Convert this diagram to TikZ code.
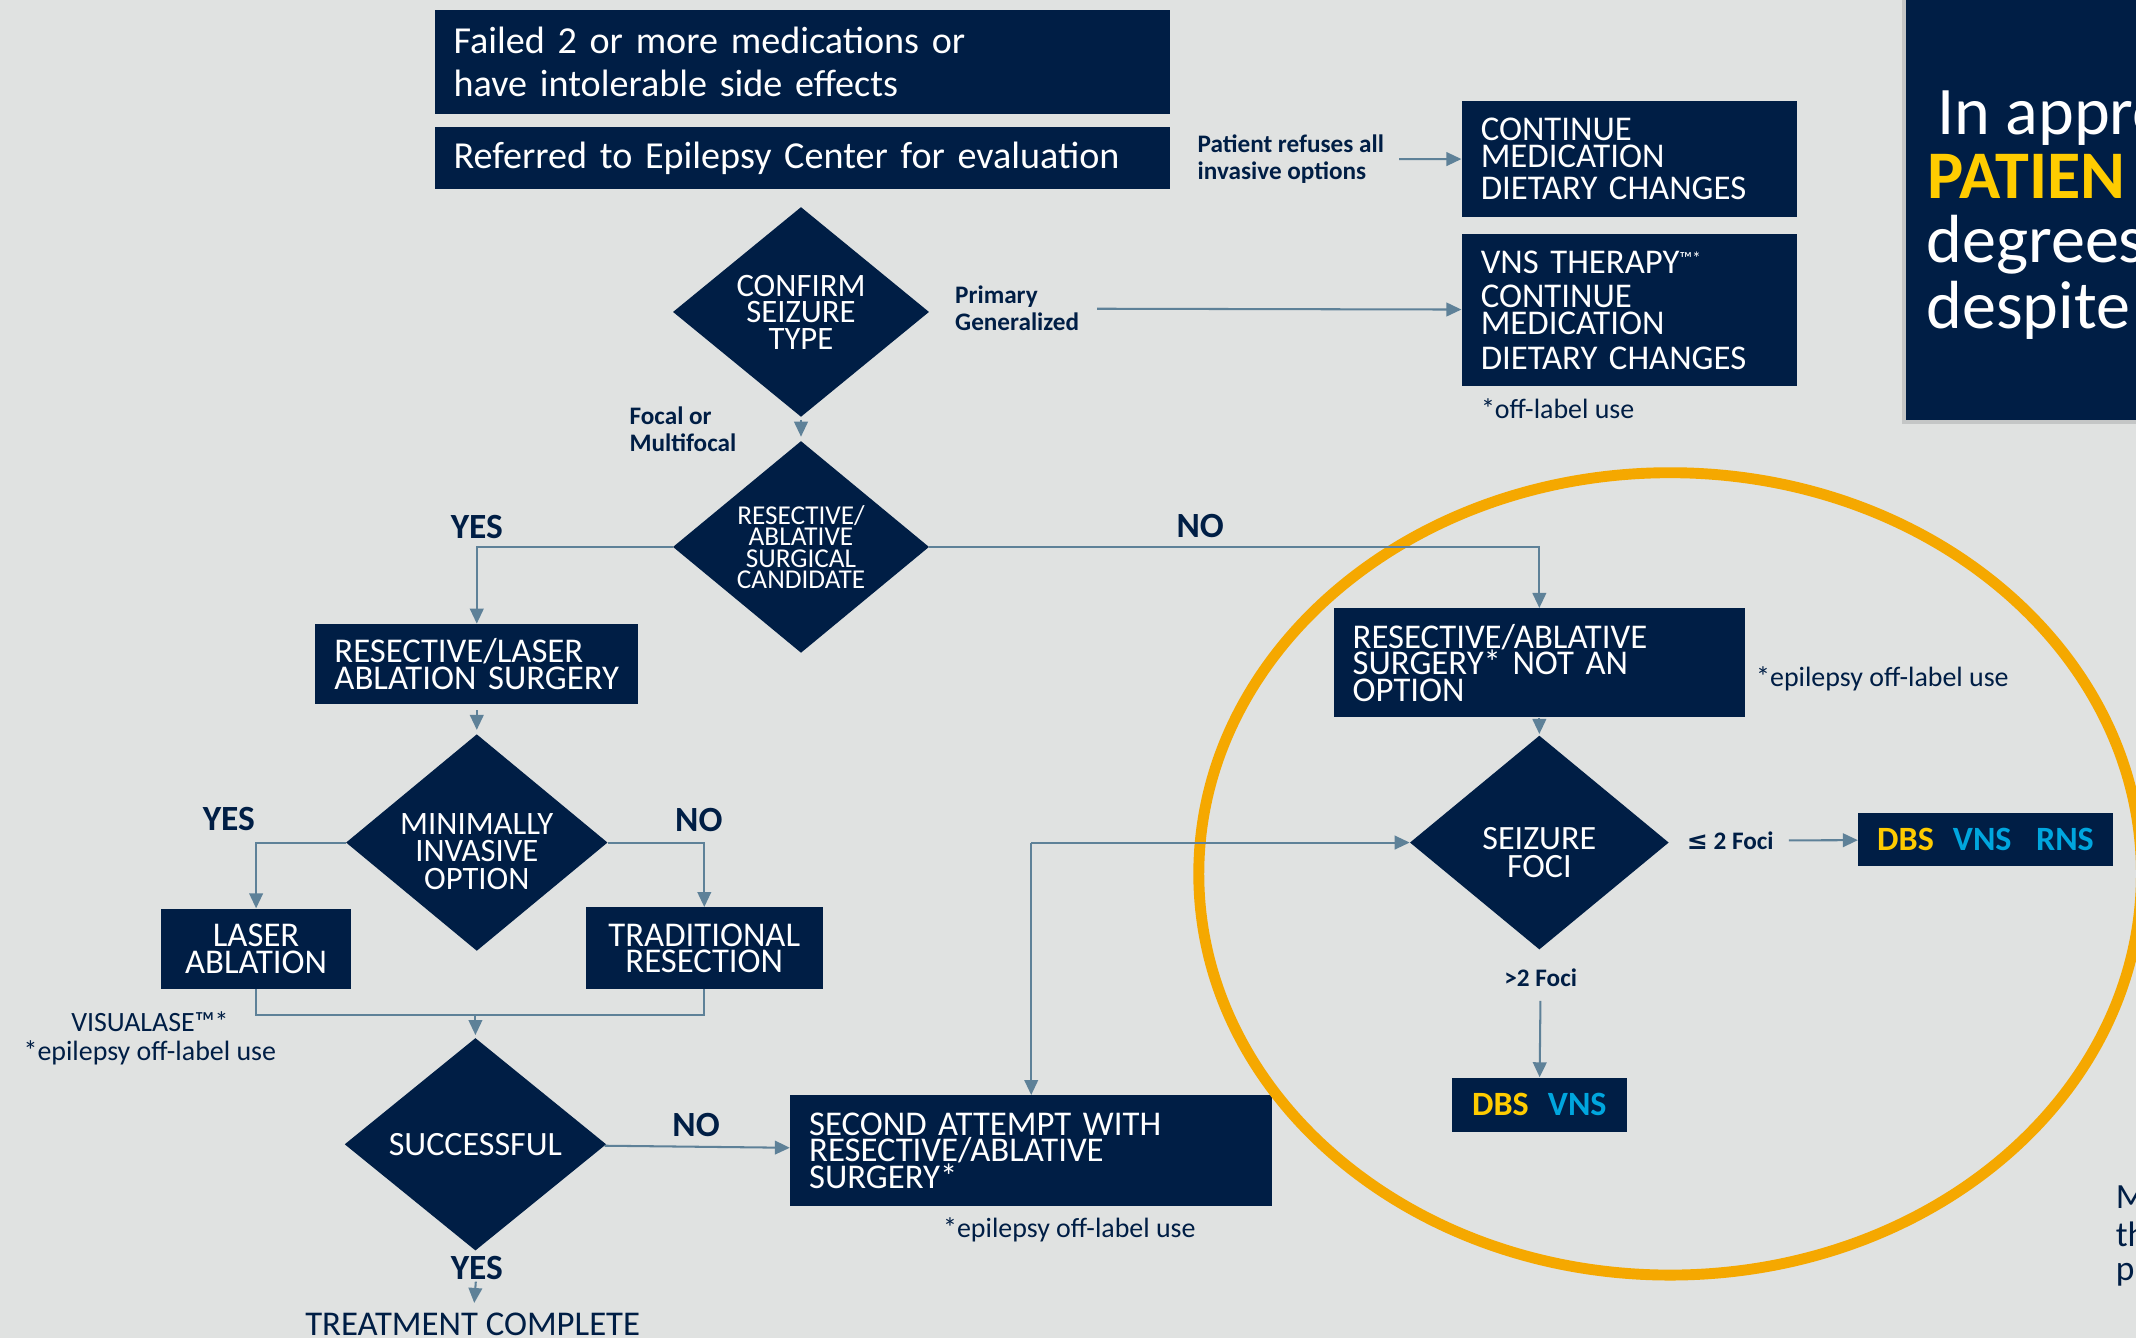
\documentclass[tikz,border=0pt]{standalone}
\usepackage{fontspec}
\setmainfont{Carlito}
\newfontfamily\symfont{DejaVu Sans}
\usetikzlibrary{shapes.geometric,arrows.meta,positioning}

\definecolor{navy}{RGB}{0,30,69}
\definecolor{bggray}{RGB}{224,226,225}
\definecolor{shadowgray}{RGB}{196,198,198}
\definecolor{linkblue}{RGB}{94,129,152}
\definecolor{ringorange}{RGB}{245,168,0}
\definecolor{dbsyellow}{RGB}{255,204,0}
\definecolor{vnscyan}{RGB}{0,166,222}

\newcommand\boxfont{\fontsize{25.5pt}{19.5pt}\selectfont}
\newcommand\headfont{\fontsize{28pt}{31pt}\selectfont}
\newcommand\lblfont{\bfseries\fontsize{18.5pt}{20pt}\selectfont}
\newcommand\notefont{\fontsize{20.5pt}{21pt}\selectfont}
\newcommand\yesnofont{\bfseries\fontsize{26pt}{26pt}\selectfont}
\newcommand\optfont{\bfseries\fontsize{25pt}{25pt}\selectfont}
\newcommand\panelfont{\fontsize{50pt}{50pt}\selectfont}

\begin{document}
\begin{tikzpicture}
  [x=1pt,y=-1pt,
   navybox/.style={rectangle,fill=navy,text=white,inner xsep=14pt,inner ysep=0pt,font=\boxfont,align=left},
   decision/.style={diamond,fill=navy,text=white,inner sep=0pt,align=center},
   lbl/.style={text=navy,font=\lblfont,inner sep=0pt,align=left},
   note/.style={text=navy,font=\notefont,inner sep=0pt,align=center},
   yesno/.style={text=navy,font=\yesnofont,inner sep=0pt},
   paneltext/.style={anchor=base west,text=white,font=\panelfont,inner sep=0pt},
   arr/.style={draw=linkblue,line width=1.5pt,-{Triangle[width=10pt,length=11pt]}},
   link/.style={draw=linkblue,line width=1.5pt}]

  \fill[bggray] (0,0) rectangle (1568,982);
  \useasboundingbox (0,0) rectangle (1568,982);
  \clip (0,0) rectangle (1568,982);

  % top of the chart
  \node[navybox,minimum width=540pt,minimum height=77pt,text width=512pt,font=\headfont] (failed) at (589,45.5) {Failed 2 or more medications or\\have intolerable side effects};
  \node[navybox,minimum width=540pt,minimum height=46pt,text width=512pt,font=\headfont] (referred) at (589,116) {Referred to Epilepsy Center for evaluation};
  \node[lbl,anchor=west] (refuses) at (879,117) {Patient refuses all\\invasive options};
  \node[navybox,minimum width=246pt,minimum height=85pt,text width=218pt] (cont) at (1196,116.5) {CONTINUE\\MEDICATION\\[4pt]DIETARY CHANGES};
  \node[navybox,minimum width=246pt,minimum height=111pt,text width=218pt] (vns) at (1196,227.5) {VNS THERAPY\raisebox{6pt}{\fontsize{13pt}{13pt}\selectfont ™*}\\[6pt]CONTINUE\\MEDICATION\\[6pt]DIETARY CHANGES};
  \node[note,anchor=west] (offvns) at (1087,300) {*off-label use};

  \node[decision,minimum width=188pt,minimum height=154pt,font=\fontsize{24pt}{19.5pt}\selectfont] (confirm) at (588,229) {CONFIRM\\SEIZURE\\TYPE};
  \node[lbl,anchor=west] (primary) at (701,226.5) {Primary\\Generalized};
  \node[lbl,anchor=west] (focal) at (462,315) {Focal or\\Multifocal};
  \node[decision,minimum width=188pt,minimum height=155pt,font=\fontsize{20pt}{15.8pt}\selectfont] (cand) at (588,401.5) {RESECTIVE/\\ABLATIVE\\SURGICAL\\CANDIDATE};
  \node[yesno] (yescand) at (350,387) {YES};
  \node[yesno] (nocand) at (881,386) {NO};

  % left branch
  \node[navybox,minimum width=237pt,minimum height=59pt,text width=209pt] (lasersurg) at (350,487.5) {RESECTIVE/LASER\\ABLATION SURGERY};
  \node[decision,minimum width=192pt,minimum height=159pt,
        label={[text=white,align=center,inner sep=0pt,font=\fontsize{24pt}{20pt}\selectfont,yshift=-6.5pt]center:MINIMALLY\\INVASIVE\\OPTION}] (minimal) at (350,618.5) {};
  \node[yesno] (yesmin) at (168,601) {YES};
  \node[yesno] (nomin) at (513,602) {NO};
  \node[navybox,align=center,inner xsep=0pt,minimum width=139pt,minimum height=59pt] (laser) at (188,696.5) {LASER\\ABLATION};
  \node[navybox,align=center,inner xsep=0pt,minimum width=174pt,minimum height=60pt] (trad) at (517,696) {TRADITIONAL\\RESECTION};
  \node[note] (visualase) at (110,762) {VISUALASE™*\\*epilepsy off-label use};
  \coordinate (merge) at (349,745);
  \node[decision,minimum width=192pt,minimum height=156pt,font=\fontsize{25pt}{20pt}\selectfont] (success) at (349,840) {SUCCESSFUL};
  \node[yesno] (nosucc) at (511,826) {NO};
  \node[yesno] (yessucc) at (350,931) {YES};
  \node[text=navy,font=\boxfont,inner sep=0pt] (complete) at (347,972) {TREATMENT COMPLETE};
  \node[navybox,minimum width=354pt,minimum height=81pt,text width=326pt] (second) at (757,844.5) {SECOND ATTEMPT WITH\\RESECTIVE/ABLATIVE\\SURGERY*};
  \node[note] (offsecond) at (785,903) {*epilepsy off-label use};
  \coordinate (loop) at (757,618.5);

  % right branch
  \node[navybox,minimum width=302pt,minimum height=80pt,text width=274pt] (notopt) at (1130,486.5) {RESECTIVE/ABLATIVE\\SURGERY* NOT AN\\OPTION};
  \node[note,anchor=west] (offnot) at (1289,498) {*epilepsy off-label use};
  \node[decision,minimum width=190pt,minimum height=157pt,font=\fontsize{25pt}{20pt}\selectfont] (foci) at (1130,618.5) {\rule{0pt}{31pt}SEIZURE\\FOCI};
  \node[lbl,anchor=west] (fewfoci) at (1238,617) {{\symfont ≤} 2 Foci};
  \node[navybox,inner xsep=0pt,minimum width=187pt,minimum height=39pt,font=\optfont] (threeopt) at (1457.5,616.5) {\textcolor{dbsyellow}{DBS}\hspace{14pt}\textcolor{vnscyan}{VNS}\hspace{18pt}\textcolor{vnscyan}{RNS}};
  \node[lbl] (manyfoci) at (1131,718) {>2 Foci};
  \node[navybox,inner xsep=0pt,minimum width=128pt,minimum height=40pt,font=\optfont] (twoopt) at (1130,811) {\textcolor{dbsyellow}{DBS}\hspace{14pt}\textcolor{vnscyan}{VNS}};

  \draw[ringorange,line width=8pt] (1226,641.5) ellipse [x radius=346pt,y radius=294.5pt];

  % connectors
  \draw[arr,shorten <=11pt] (refuses) -- (cont);
  \draw[arr,shorten <=13pt] (primary) -- (vns);
  \draw[arr,shorten <=2pt,shorten >=3pt] (confirm) -- (cand);
  \draw[arr] (cand.west) -| (lasersurg.north);
  \draw[arr] (cand.east) -| (notopt.north);
  \draw[arr,shorten <=4pt,shorten >=3pt] (lasersurg) -- (minimal);
  \draw[arr] (minimal.west) -| (laser.north);
  \draw[arr] (minimal.east) -| (trad.north);
  \draw[link] (laser.south) |- (merge) -| (trad.south);
  \draw[arr,shorten >=2pt] (merge) -- (success.north);
  \draw[arr] (success) -- (second);
  \draw[arr,shorten <=1pt,shorten >=7pt] (yessucc) -- (complete);
  \draw[arr] (loop) -- (foci.west);
  \draw[arr] (loop) -- (second.north);
  \draw[arr,shorten >=1pt] (notopt) -- (foci);
  \draw[arr,shorten <=11pt] (fewfoci) -- (threeopt);
  \draw[arr,shorten <=10pt] (manyfoci) -- (twoopt);

  % side panel
  \fill[shadowgray] (1396,-10) rectangle (1580,311);
  \fill[navy] (1399,-10) rectangle (1580,308);
  \node[paneltext] (intro) at (1422,99) {In appro};
  \node[paneltext,text=dbsyellow,font=\bfseries\panelfont] (patients) at (1415,145.5) {PATIEN};
  \node[paneltext] (degrees) at (1414,193) {degrees};
  \node[paneltext] (despite) at (1414,241) {despite};

  \node[anchor=base west,text=navy,font=\fontsize{26pt}{28pt}\selectfont,inner sep=0pt] (cutm) at (1553,887) {M};
  \node[anchor=base west,text=navy,font=\fontsize{26pt}{28pt}\selectfont,inner sep=0pt] (cutth) at (1553,915) {th};
  \node[anchor=base west,text=navy,font=\fontsize{26pt}{28pt}\selectfont,inner sep=0pt] (cutp) at (1553,940) {p};
\end{tikzpicture}
\end{document}
